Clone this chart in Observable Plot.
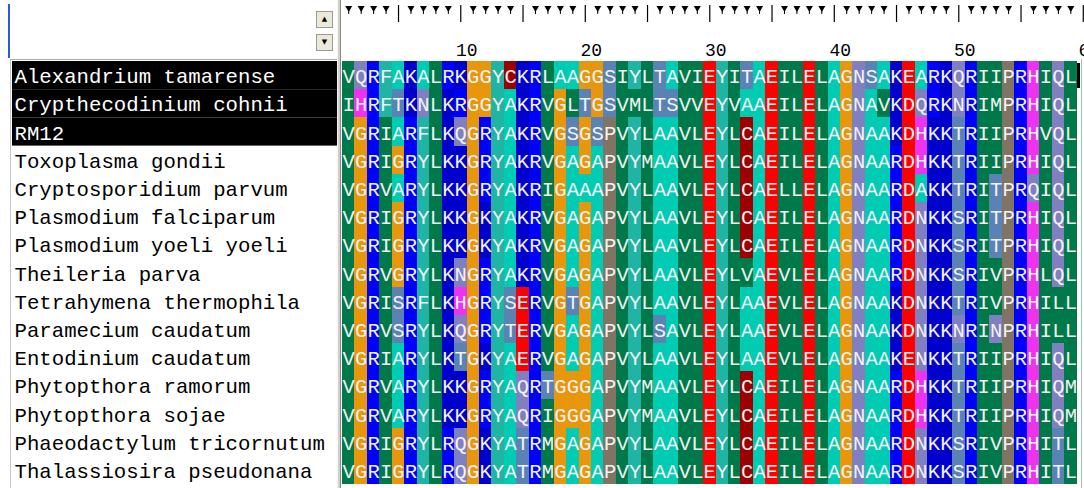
<!DOCTYPE html>
<html><head><meta charset="utf-8">
<script src="https://cdn.jsdelivr.net/npm/d3@7"></script>
<script src="https://cdn.jsdelivr.net/npm/@observablehq/plot@0.6"></script>
<style>
html,body{margin:0;padding:0;background:#fff;}
#wrap{position:relative;width:1084px;height:488px;overflow:hidden;background:#fff;}
#wrap > *{position:absolute;}
.btn{width:17px;height:17px;background:#ece9d8;border:1px solid #9a9a9a;box-sizing:border-box;font:7px "DejaVu Sans";color:#000;text-align:center;line-height:15px;}
</style></head><body><div id="wrap"></div>
<script>
// ---- data ----
const names = [
  "Alexandrium tamarense",
  "Crypthecodinium cohnii",
  "RM12",
  "Toxoplasma gondii",
  "Cryptosporidium parvum",
  "Plasmodium falciparum",
  "Plasmodium yoeli yoeli",
  "Theileria parva",
  "Tetrahymena thermophila",
  "Paramecium caudatum",
  "Entodinium caudatum",
  "Phytopthora ramorum",
  "Phytopthora sojae",
  "Phaeodactylum tricornutum",
  "Thalassiosira pseudonana"
];
const sequences = [
  "VQRFAKALRKGGYCKRLAAGGSIYLTAVIEYITAEILELAGNSAKEARKQRIIPRHIQL",
  "IHRFTKNLKRGGYAKRVGLTGSVMLTSVVEYVAAEILELAGNAVKDQRKNRIMPRHIQL",
  "VGRIARFLKQGRYAKRVGSGSPVYLAAVLEYLCAEILELAGNAAKDHKKTRIIPRHVQL",
  "VGRIGRYLKKGRYAKRVGAGAPVYMAAVLEYLCAEILELAGNAARDHKKTRIIPRHIQL",
  "VGRVARYLKKGRYAKRIGAAAPVYLAAVLEYLCAELLELAGNAARDAKKTRITPRQIQL",
  "VGRIGRYLKKGKYAKRVGAGAPVYLAAVLEYLCAEILELAGNAARDNKKSRITPRHIQL",
  "VGRIGRYLKKGKYAKRVGAGAPVYLAAVLEYLCAEILELAGNAARDNKKSRITPRHIQL",
  "VGRVGRYLKNGRYAKRVGAGAPVYLAAVLEYLVAEVLELAGNAARDNKKSRIVPRHLQL",
  "VGRISRFLKHGRYSERVGTGAPVYLAAVLEYLAAEVLELAGNAAKDNKKTRIVPRHILL",
  "VGRVSRYLKQGRYTERVGAGAPVYLSAVLEYLAAEVLELAGNAAKDNKKNRINPRHILL",
  "VGRIARYLKTGKYAERVGAGAPVYLAAVLEYLAAEVLELAGNAAKENKKTRIIPRHIQL",
  "VGRVARYLKKGRYAQRTGGGAPVYMAAVLEYLCAEILELAGNAARDHKKTRIIPRHIQM",
  "VGRVARYLKKGRYAQRIGGGAPVYMAAVLEYLCAEILELAGNAARDHKKTRIIPRHIQM",
  "VGRIGRYLRQGKYATRMGAGAPVYLAAVLEYLCAEILELAGNAARDNKKSRIVPRHITL",
  "VGRIGRYLRQGKYATRMGAGAPVYLAAVLEYLCAEILELAGNAARDNKKSRIVPRHITL"
];
const selectedRows = [0, 1, 2];
const rulerColumns = d3.range(1, 61);
const tickLabels = [10, 20, 30, 40, 50, 60];
const residueColors = {
  V: "#00794a", I: "#00794a", L: "#00794a", M: "#00794a",
  G: "#e8960c",
  R: "#0000ff", K: "#0000cc",
  Q: "#8080c0", N: "#8080c0",
  F: "#20b4a4", Y: "#20b4a4",
  A: "#00ccb4",
  C: "#9c0000",
  E: "#ff0000", D: "#ff0000",
  H: "#ee33ee",
  S: "#5a82b4", T: "#5a82b4",
  P: "#807464"
};

// ---- layout ----
const colW = 12.45, rowH = 28.2, top0 = 61, left0 = 342;
const nRows = names.length, nCols = sequences[0].length;
const mono = "Liberation Mono, DejaVu Sans Mono, monospace";
const wrap = document.getElementById("wrap");

function place(el, l, t) { el.style.left = l + "px"; el.style.top = t + "px"; wrap.appendChild(el); return el; }
function box(l, t, w, h, bg, extra = "") {
  const d = document.createElement("div");
  d.style.cssText = `width:${w}px;height:${h}px;background:${bg};${extra}`;
  return place(d, l, t);
}

const cells = [];
sequences.forEach((s, r) => [...s].forEach((aa, i) => cells.push({row: r, col: i + 1, aa})));

// alignment
const align = Plot.plot({
  width: 1084 - 340, height: nRows * rowH, margin: 0,
  style: {background: "transparent", overflow: "visible"},
  x: {type: "linear", domain: [0.5, nCols + 0.5], range: [left0 - 340, left0 - 340 + nCols * colW], axis: null},
  y: {type: "linear", domain: [0, nRows], range: [0, nRows * rowH], axis: null},
  color: {type: "identity"},
  marks: [
    Plot.rect(cells, {x1: d => d.col - 0.5, x2: d => d.col + 0.5, y1: d => d.row, y2: d => d.row + 1,
      fill: d => residueColors[d.aa] || "#ffffff", shapeRendering: "crispEdges"}),
    Plot.text(cells, {x: "col", y: d => d.row + 0.5, text: "aa", fill: "#f2f2f2",
      fontFamily: mono, fontSize: 20.5, dy: 1})
  ]
});
place(align, 340, top0);

// names
const namePlot = Plot.plot({
  width: 340, height: nRows * rowH, margin: 0,
  style: {background: "transparent"},
  x: {type: "linear", domain: [0, 1], range: [12, 338], axis: null},
  y: {type: "linear", domain: [0, nRows], range: [0, nRows * rowH], axis: null},
  color: {type: "identity"},
  marks: [
    Plot.rect(selectedRows, {x1: 0, x2: 1, y1: d => d, y2: d => d + 1, fill: "#000000"}),
    Plot.text(names, {x: 0, y: (d, i) => i + 0.5, text: d => d, textAnchor: "start", dx: 2, dy: 1,
      fill: (d, i) => selectedRows.includes(i) ? "#ffffff" : "#000000", fontFamily: mono, fontSize: 20.7})
  ]
});
place(namePlot, 0, top0);

// ruler
const ruler = Plot.plot({
  width: 1084 - 340, height: 60, margin: 0,
  style: {background: "transparent", overflow: "visible"},
  x: {type: "linear", domain: [0.5, nCols + 0.5], range: [left0 - 340, left0 - 340 + nCols * colW], axis: null},
  marks: [
    Plot.tickX(rulerColumns.filter(c => c % 5 === 0), {x: d => d, stroke: "#000", strokeWidth: 1.2, insetTop: 5, insetBottom: 38}),
    Plot.tickX(rulerColumns.filter(c => c % 5 !== 0), {x: d => d, stroke: "#000", strokeWidth: 1, insetTop: 6, insetBottom: 46}),
    Plot.dot(rulerColumns.filter(c => c % 5 !== 0), {x: d => d, frameAnchor: "top", dy: 7.5, symbol: "triangle", r: 2.6, rotate: 180, fill: "#000", stroke: "none"}),
    Plot.text(tickLabels, {x: d => d, frameAnchor: "top", dy: 43, dx: 6, text: d => String(d),
      fontFamily: mono, fontSize: 18, fill: "#000"})
  ]
});
place(ruler, 340, 0);

// window chrome
box(8, 4, 2, 54, "#2a5bd7");
box(10, 59, 328, 1, "#a8a8a8");
box(10, 60, 1, 428, "#c8c8c8");
box(337, 0, 4, 488, "#d4d0c8", "border-left:1px solid #f4f4f4;border-right:1px solid #8a8a8a;box-sizing:border-box;");
const up = document.createElement("div"); up.className = "btn"; up.textContent = "\u25B2"; place(up, 316, 11);
const dn = document.createElement("div"); dn.className = "btn"; dn.textContent = "\u25BC"; place(dn, 316, 34);
box(1077, 63, 3, 25, "#000");
box(1081, 59, 1, 429, "#a0bfae");
</script></body></html>
